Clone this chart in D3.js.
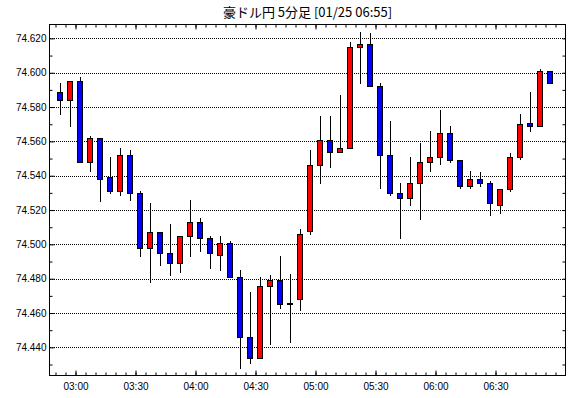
<!DOCTYPE html>
<html>
<head>
<meta charset="utf-8">
<script src="https://cdn.jsdelivr.net/npm/d3@7"></script>
<style>
    html, body { margin: 0; padding: 0; background: #ffffff; }
    svg { display: block; }
    .axis text { font-family: "Liberation Sans", Arial, sans-serif; font-size: 10px; fill: #000000; }
    .title { font-family: "Noto Sans CJK JP", sans-serif; font-size: 13px; fill: #000000; }
</style>
</head>
<body>
<div id="chart"></div>
<script>
/*
 * Chart title.
 */
var title = '豪ドル円 5分足 [01/25 06:55]';
/*
 * Candle start times (5 minute bars).
 */
var times = [
    '02:50', '02:55', '03:00', '03:05', '03:10', '03:15', '03:20', '03:25', '03:30', '03:35',
    '03:40', '03:45', '03:50', '03:55', '04:00', '04:05', '04:10', '04:15', '04:20', '04:25',
    '04:30', '04:35', '04:40', '04:45', '04:50', '04:55', '05:00', '05:05', '05:10', '05:15',
    '05:20', '05:25', '05:30', '05:35', '05:40', '05:45', '05:50', '05:55', '06:00', '06:05',
    '06:10', '06:15', '06:20', '06:25', '06:30', '06:35', '06:40', '06:45', '06:50', '06:55'
];
var opens = [
    74.589, 74.584, 74.595, 74.548, 74.562, 74.539, 74.531, 74.552, 74.530, 74.498,
    74.507, 74.495, 74.489, 74.505, 74.513, 74.504, 74.494, 74.501, 74.481, 74.446,
    74.434, 74.476, 74.479, 74.466, 74.468, 74.508, 74.546, 74.561, 74.554, 74.556,
    74.615, 74.617, 74.592, 74.552, 74.530, 74.527, 74.536, 74.548, 74.551, 74.565,
    74.549, 74.534, 74.538, 74.536, 74.523, 74.532, 74.551, 74.571, 74.569, 74.601
];
var highs = [
    74.594, 74.595, 74.5975, 74.563, 74.562, 74.551, 74.5564, 74.555, 74.531, 74.524,
    74.507, 74.512, 74.505, 74.526, 74.5155, 74.505, 74.505, 74.502, 74.485, 74.4725,
    74.481, 74.482, 74.493, 74.483, 74.509, 74.555, 74.575, 74.575, 74.587, 74.618,
    74.624, 74.623, 74.594, 74.572, 74.5355, 74.551, 74.559, 74.566, 74.578, 74.569,
    74.549, 74.543, 74.542, 74.537, 74.532, 74.553, 74.576, 74.589, 74.602, 74.601
];
var lows = [
    74.576, 74.569, 74.548, 74.543, 74.525, 74.5297, 74.529, 74.526, 74.493, 74.478,
    74.488, 74.482, 74.484, 74.493, 74.496, 74.486, 74.485, 74.481, 74.428, 74.431,
    74.434, 74.442, 74.463, 74.443, 74.462, 74.506, 74.536, 74.545, 74.554, 74.556,
    74.594, 74.592, 74.533, 74.529, 74.504, 74.523, 74.515, 74.543, 74.547, 74.548,
    74.533, 74.533, 74.534, 74.517, 74.518, 74.531, 74.550, 74.566, 74.569, 74.594
];
var closes = [
    74.584, 74.595, 74.548, 74.562, 74.538, 74.531, 74.552, 74.530, 74.498, 74.507,
    74.495, 74.489, 74.505, 74.513, 74.504, 74.495, 74.501, 74.481, 74.446, 74.434,
    74.476, 74.479, 74.465, 74.466, 74.506, 74.546, 74.561, 74.554, 74.556, 74.615,
    74.617, 74.592, 74.552, 74.530, 74.527, 74.536, 74.548, 74.551, 74.565, 74.549,
    74.534, 74.538, 74.536, 74.524, 74.532, 74.551, 74.570, 74.569, 74.601, 74.594
];
/*
 * Axis ticks.
 */
var yMajorTicks = [74.440, 74.460, 74.480, 74.500, 74.520, 74.540, 74.560, 74.580, 74.600, 74.620];
var yMinorTicks = [74.430, 74.450, 74.470, 74.490, 74.510, 74.530, 74.550, 74.570, 74.590, 74.610];
var xMajorTicks = ['03:00', '03:30', '04:00', '04:30', '05:00', '05:30', '06:00', '06:30'];
var xDomain = ['02:47', '07:05'];
var yDomain = [74.4236, 74.6281];

/*
 * Parse "HH:MM" into a UTC date.
 */
var parseTime = d3.utcParse('%H:%M');
var formatTime = d3.utcFormat('%H:%M');

var data = times.map(function(t, i) {
    return {
        time: parseTime(t),
        open: opens[i],
        high: highs[i],
        low: lows[i],
        close: closes[i]
    };
});

/*
 * Chart dimensions.
 */
var width = 570, height = 398;
var plot = { left: 49.5, right: 565.5, top: 24.5, bottom: 375.5 };

var x = d3.scaleUtc()
    .domain(xDomain.map(parseTime))
    .range([plot.left, plot.right]);

var y = d3.scaleLinear()
    .domain(yDomain)
    .range([plot.bottom, plot.top]);

/*
 * Minor x ticks every 5 minutes.
 */
var xMinorTicks = d3.utcMinute.every(5).range(parseTime('02:50'), parseTime('07:05'));

var svg = d3.select('#chart').append('svg')
    .attr('width', width)
    .attr('height', height);

svg.append('rect')
    .attr('width', width)
    .attr('height', height)
    .attr('fill', '#ffffff');

/*
 * Title.
 */
svg.append('text')
    .attr('class', 'title')
    .attr('x', 307.5)
    .attr('y', 17)
    .attr('text-anchor', 'middle')
    .text(title);

/*
 * Dotted grid lines (start on a whole pixel so the dots stay crisp).
 */
svg.append('g')
    .selectAll('line')
    .data(yMajorTicks)
    .join('line')
    .attr('x1', plot.left + 0.5)
    .attr('x2', plot.right - 0.5)
    .attr('y1', function(d) { return Math.round(y(d)) + 0.5; })
    .attr('y2', function(d) { return Math.round(y(d)) + 0.5; })
    .attr('stroke', '#000000')
    .attr('stroke-width', 1)
    .attr('shape-rendering', 'crispEdges')
    .attr('stroke-dasharray', '1,1');

/*
 * Candles.
 */
var candles = svg.append('g')
    .selectAll('g')
    .data(data)
    .join('g');

function centerX(d) {
    return Math.floor(x(d3.utcSecond.offset(d.time, 150))) + 0.5;
}

candles.append('line')
    .attr('x1', centerX)
    .attr('x2', centerX)
    .attr('y1', function(d) { return Math.round(y(d.high)); })
    .attr('y2', function(d) { return Math.round(y(d.low)) + 1; })
    .attr('stroke', '#000000')
    .attr('stroke-width', 1);

candles.append('rect')
    .attr('x', function(d) { return centerX(d) - 3; })
    .attr('y', function(d) { return Math.round(y(Math.max(d.open, d.close))) + 0.5; })
    .attr('width', 5)
    .attr('height', function(d) {
        var h = Math.round(y(Math.min(d.open, d.close))) - Math.round(y(Math.max(d.open, d.close)));
        return Math.max(h, 1);
    })
    .attr('fill', function(d) {
        if (d.close > d.open) return '#ff0000';
        if (d.close < d.open) return '#0000ff';
        return '#000000';
    })
    .attr('stroke', '#000000')
    .attr('stroke-width', 1);

/*
 * Axes: ticks point inward on every side.
 */
function axisStyle(g) {
    g.select('.domain').remove();
    g.selectAll('.tick line').attr('stroke', '#000000');
}

svg.append('g')
    .attr('class', 'axis')
    .attr('transform', 'translate(' + plot.left + ',0)')
    .call(d3.axisLeft(y).tickValues(yMajorTicks).tickFormat(d3.format('.3f'))
        .tickSizeInner(-5).tickSizeOuter(0).tickPadding(3))
    .call(axisStyle);

svg.append('g')
    .attr('class', 'axis')
    .attr('transform', 'translate(' + plot.left + ',0)')
    .call(d3.axisLeft(y).tickValues(yMinorTicks).tickFormat('')
        .tickSizeInner(-3).tickSizeOuter(0))
    .call(axisStyle);

svg.append('g')
    .attr('class', 'axis')
    .attr('transform', 'translate(' + plot.right + ',0)')
    .call(d3.axisRight(y).tickValues(yMajorTicks.concat(yMinorTicks)).tickFormat('')
        .tickSizeInner(-3).tickSizeOuter(0))
    .call(axisStyle);

svg.append('g')
    .attr('class', 'axis')
    .attr('transform', 'translate(0,' + plot.bottom + ')')
    .call(d3.axisBottom(x).tickValues(xMajorTicks.map(parseTime)).tickFormat(formatTime)
        .tickSizeInner(-5).tickSizeOuter(0).tickPadding(7))
    .call(axisStyle);

svg.append('g')
    .attr('class', 'axis')
    .attr('transform', 'translate(0,' + plot.bottom + ')')
    .call(d3.axisBottom(x).tickValues(xMinorTicks).tickFormat('')
        .tickSizeInner(-3).tickSizeOuter(0))
    .call(axisStyle);

svg.append('g')
    .attr('class', 'axis')
    .attr('transform', 'translate(0,' + plot.top + ')')
    .call(d3.axisTop(x).tickValues(xMajorTicks.map(parseTime)).tickFormat('')
        .tickSizeInner(-5).tickSizeOuter(0))
    .call(axisStyle);

svg.append('g')
    .attr('class', 'axis')
    .attr('transform', 'translate(0,' + plot.top + ')')
    .call(d3.axisTop(x).tickValues(xMinorTicks).tickFormat('')
        .tickSizeInner(-3).tickSizeOuter(0))
    .call(axisStyle);

/*
 * Plot frame.
 */
svg.append('rect')
    .attr('x', plot.left)
    .attr('y', plot.top)
    .attr('width', plot.right - plot.left)
    .attr('height', plot.bottom - plot.top)
    .attr('fill', 'none')
    .attr('stroke', '#000000')
    .attr('stroke-width', 1);
</script>
</body>
</html>
